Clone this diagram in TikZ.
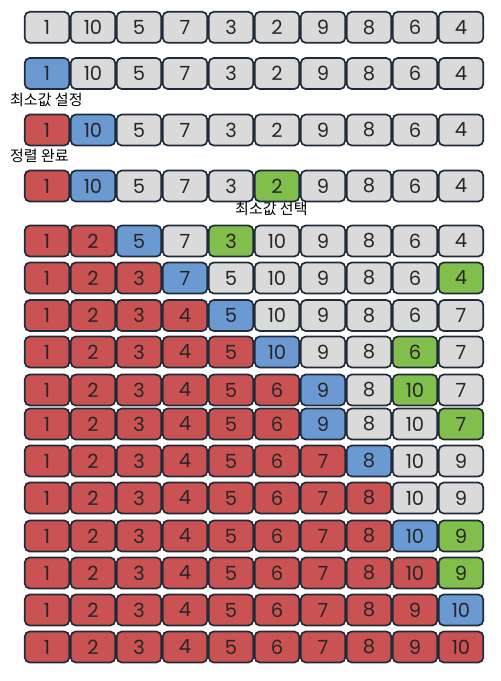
\documentclass[tikz,border=0pt]{standalone}
\usepackage{fontspec}
\setmainfont{Poppins}
\newfontfamily\kr{Noto Sans CJK KR}
\definecolor{cgray}{HTML}{DADADA}
\definecolor{cblue}{HTML}{6B9AD3}
\definecolor{cred}{HTML}{CB5252}
\definecolor{cgreen}{HTML}{82BE4B}
\definecolor{cborder}{HTML}{1F2B3A}
\tikzset{
  cell/.style={draw=cborder, line width=1.7pt, rounded corners=5pt,
    minimum width=44.5pt, minimum height=31pt, inner sep=0pt,
    font=\fontsize{19.5}{19.5}\selectfont, text=black!85},
  gr/.style={cell, fill=cgray},
  bl/.style={cell, fill=cblue},
  rd/.style={cell, fill=cred},
  gn/.style={cell, fill=cgreen},
  lbl/.style={font=\kr\fontsize{15}{15}\selectfont, inner sep=0pt, text=black}
}
\newcommand{\cellrow}[3]{%
  \foreach \c/\v [count=\i from 0] in {#3}
    \node[\c] (#1-\i) at ({47+46*\i},#2) {\v};
}
\begin{document}
\begin{tikzpicture}[x=1pt,y=-1pt]
\useasboundingbox (0,0) rectangle (501,681);
\cellrow{r1}{27.3}{gr/1,gr/10,gr/5,gr/7,gr/3,gr/2,gr/9,gr/8,gr/6,gr/4}
\cellrow{r2}{73.5}{bl/1,gr/10,gr/5,gr/7,gr/3,gr/2,gr/9,gr/8,gr/6,gr/4}
\cellrow{r3}{130}{rd/1,bl/10,gr/5,gr/7,gr/3,gr/2,gr/9,gr/8,gr/6,gr/4}
\cellrow{r4}{186}{rd/1,bl/10,gr/5,gr/7,gr/3,gn/2,gr/9,gr/8,gr/6,gr/4}
\cellrow{r5}{241}{rd/1,rd/2,bl/5,gr/7,gn/3,gr/10,gr/9,gr/8,gr/6,gr/4}
\cellrow{r6}{278}{rd/1,rd/2,rd/3,bl/7,gr/5,gr/10,gr/9,gr/8,gr/6,gn/4}
\cellrow{r7}{315.5}{rd/1,rd/2,rd/3,rd/4,bl/5,gr/10,gr/9,gr/8,gr/6,gr/7}
\cellrow{r8}{352}{rd/1,rd/2,rd/3,rd/4,rd/5,bl/10,gr/9,gr/8,gn/6,gr/7}
\cellrow{r9}{390}{rd/1,rd/2,rd/3,rd/4,rd/5,rd/6,bl/9,gr/8,gn/10,gr/7}
\cellrow{r10}{424}{rd/1,rd/2,rd/3,rd/4,rd/5,rd/6,bl/9,gr/8,gr/10,gn/7}
\cellrow{r11}{461}{rd/1,rd/2,rd/3,rd/4,rd/5,rd/6,rd/7,bl/8,gr/10,gr/9}
\cellrow{r12}{498}{rd/1,rd/2,rd/3,rd/4,rd/5,rd/6,rd/7,rd/8,gr/10,gr/9}
\cellrow{r13}{536}{rd/1,rd/2,rd/3,rd/4,rd/5,rd/6,rd/7,rd/8,bl/10,gn/9}
\cellrow{r14}{573}{rd/1,rd/2,rd/3,rd/4,rd/5,rd/6,rd/7,rd/8,rd/10,gn/9}
\cellrow{r15}{610}{rd/1,rd/2,rd/3,rd/4,rd/5,rd/6,rd/7,rd/8,rd/9,bl/10}
\cellrow{r16}{647}{rd/1,rd/2,rd/3,rd/4,rd/5,rd/6,rd/7,rd/8,rd/9,rd/10}
\node[lbl, anchor=west] (lab1) at (10,100) {최소값 설정};
\node[lbl, anchor=west] (lab2) at (10,155.5) {정렬 완료};
\node[lbl, anchor=west] (lab3) at (235,208.5) {최소값 선택};
\end{tikzpicture}
\end{document}
